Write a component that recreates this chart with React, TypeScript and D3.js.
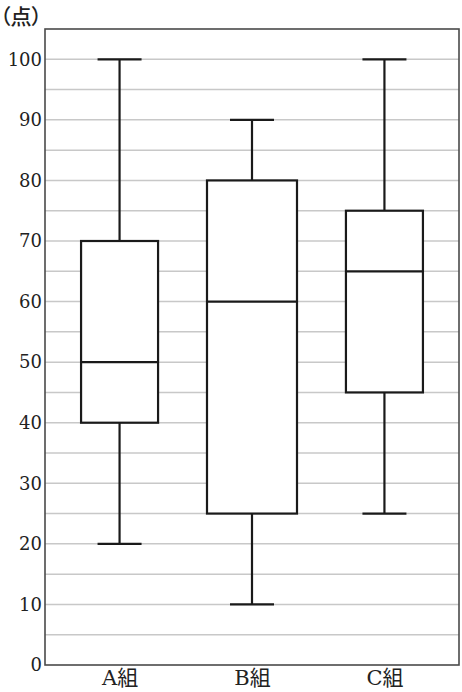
import { useEffect, useRef } from "react";
import * as d3 from "d3";

// Box plot data (points)
const groups = ["A組", "B組", "C組"];
const minValues = [20, 10, 25];
const q1Values = [40, 25, 45];
const medianValues = [50, 60, 65];
const q3Values = [70, 80, 75];
const maxValues = [100, 90, 100];
const yTickLabels = [0, 10, 20, 30, 40, 50, 60, 70, 80, 90, 100];
const gridValues = d3.range(5, 105, 5);

const boxWidths = [77, 90, 77];

export default function App() {
    const svgRef = useRef<SVGSVGElement | null>(null);

    useEffect(() => {
        if (!svgRef.current) return;
        d3.select(svgRef.current).selectAll("*").remove();

        const width = 462;
        const height = 692;
        const margin = { top: 29, right: 3, bottom: 27, left: 45 };
        const innerWidth = width - margin.left - margin.right;
        const innerHeight = height - margin.top - margin.bottom;

        const data = groups.map((g, i) => ({
            group: g,
            min: minValues[i],
            q1: q1Values[i],
            median: medianValues[i],
            q3: q3Values[i],
            max: maxValues[i],
            w: boxWidths[i],
        }));

        const svg = d3
            .select(svgRef.current)
            .attr("width", width)
            .attr("height", height)
            .append("g")
            .attr("transform", `translate(${margin.left},${margin.top})`);

        const x = d3.scalePoint().domain(groups).range([0, innerWidth]).padding(0.563);
        const y = d3.scaleLinear().domain([0, 105]).range([innerHeight, 0]);

        // Grid lines
        svg.selectAll(".grid")
            .data(gridValues)
            .enter()
            .append("line")
            .attr("x1", 0)
            .attr("x2", innerWidth)
            .attr("y1", (d) => y(d))
            .attr("y2", (d) => y(d))
            .attr("stroke", "#c8c8c8")
            .attr("stroke-width", 1.5);

        // Frame
        svg.append("rect")
            .attr("x", 0)
            .attr("y", 0)
            .attr("width", innerWidth)
            .attr("height", innerHeight)
            .attr("fill", "none")
            .attr("stroke", "#4a4a4a")
            .attr("stroke-width", 1.6);

        // Y axis labels
        const yAxis = svg
            .append("g")
            .call(d3.axisLeft(y).tickValues(yTickLabels).tickSize(0).tickPadding(3));
        yAxis.select(".domain").remove();
        yAxis.selectAll("text")
            .attr("font-family", "'DejaVu Serif', serif")
            .attr("font-size", "18px")
            .attr("fill", "#222");

        // X axis labels
        const xAxis = svg
            .append("g")
            .attr("transform", `translate(0,${innerHeight})`)
            .call(d3.axisBottom(x).tickSize(0).tickPadding(5));
        xAxis.select(".domain").remove();
        xAxis.selectAll("text")
            .attr("font-family", "'DejaVu Serif', 'Noto Sans CJK JP', serif")
            .attr("font-size", "21px")
            .attr("fill", "#222");

        const boxes = svg
            .selectAll(".box")
            .data(data)
            .enter()
            .append("g")
            .attr("transform", (d) => `translate(${x(d.group)},0)`);

        // Whiskers
        boxes.append("line")
            .attr("x1", 0)
            .attr("x2", 0)
            .attr("y1", (d) => y(d.min))
            .attr("y2", (d) => y(d.max))
            .attr("stroke", "#1a1a1a")
            .attr("stroke-width", 2.2);

        boxes.selectAll(".cap")
            .data((d) => [d.min, d.max])
            .enter()
            .append("line")
            .attr("x1", -22)
            .attr("x2", 22)
            .attr("y1", (v) => y(v))
            .attr("y2", (v) => y(v))
            .attr("stroke", "#1a1a1a")
            .attr("stroke-width", 2.2);

        // Boxes
        boxes.append("rect")
            .attr("x", (d) => -d.w / 2)
            .attr("width", (d) => d.w)
            .attr("y", (d) => y(d.q3))
            .attr("height", (d) => y(d.q1) - y(d.q3))
            .attr("fill", "#fff")
            .attr("stroke", "#1a1a1a")
            .attr("stroke-width", 2.2);

        // Medians
        boxes.append("line")
            .attr("x1", (d) => -d.w / 2)
            .attr("x2", (d) => d.w / 2)
            .attr("y1", (d) => y(d.median))
            .attr("y2", (d) => y(d.median))
            .attr("stroke", "#1a1a1a")
            .attr("stroke-width", 2.2);

        // Unit label
        d3.select(svgRef.current)
            .append("text")
            .attr("x", 0)
            .attr("y", 24)
            .attr("font-family", "'Noto Sans CJK JP', sans-serif")
            .attr("font-size", "21px")
            .attr("font-weight", 500)
            .attr("fill", "#222")
            .style("font-feature-settings", "'palt'")
            .text("（点）");
    }, []);

    return (
        <svg
            ref={svgRef}
            style={{ position: "absolute", left: 0, top: 0, background: "#fff" }}
        />
    );
}
